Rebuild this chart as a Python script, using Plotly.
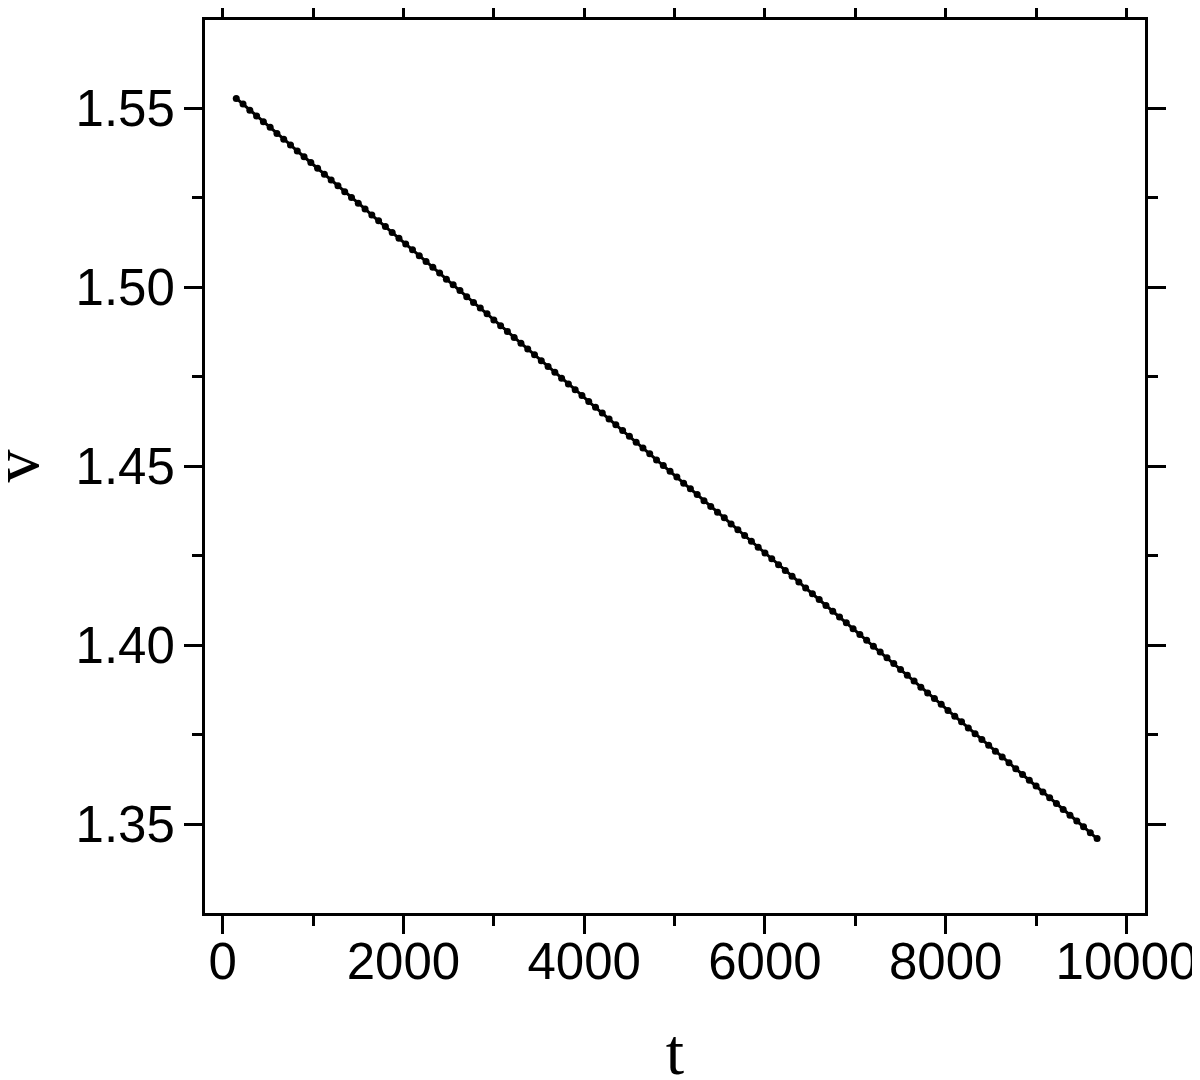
import plotly.graph_objs as go

t_vals = [
    150, 225, 300, 375, 450, 525, 600, 675, 750, 825,
    900, 975, 1050, 1125, 1200, 1275, 1350, 1425, 1500, 1575,
    1650, 1725, 1800, 1875, 1950, 2025, 2100, 2175, 2250, 2325,
    2400, 2475, 2550, 2625, 2700, 2775, 2850, 2925, 3000, 3075,
    3150, 3225, 3300, 3375, 3450, 3525, 3600, 3675, 3750, 3825,
    3900, 3975, 4050, 4125, 4200, 4275, 4350, 4425, 4500, 4575,
    4650, 4725, 4800, 4875, 4950, 5025, 5100, 5175, 5250, 5325,
    5400, 5475, 5550, 5625, 5700, 5775, 5850, 5925, 6000, 6075,
    6150, 6225, 6300, 6375, 6450, 6525, 6600, 6675, 6750, 6825,
    6900, 6975, 7050, 7125, 7200, 7275, 7350, 7425, 7500, 7575,
    7650, 7725, 7800, 7875, 7950, 8025, 8100, 8175, 8250, 8325,
    8400, 8475, 8550, 8625, 8700, 8775, 8850, 8925, 9000, 9075,
    9150, 9225, 9300, 9375, 9450, 9525, 9600, 9675,
]

v_vals = [
    1.5528, 1.5512, 1.5495, 1.5479, 1.5463, 1.5447, 1.5430, 1.5414, 1.5398, 1.5381,
    1.5365, 1.5349, 1.5333, 1.5316, 1.5300, 1.5284, 1.5267, 1.5251, 1.5235, 1.5219,
    1.5202, 1.5186, 1.5170, 1.5153, 1.5137, 1.5121, 1.5105, 1.5088, 1.5072, 1.5056,
    1.5040, 1.5023, 1.5007, 1.4991, 1.4974, 1.4958, 1.4942, 1.4926, 1.4909, 1.4893,
    1.4877, 1.4860, 1.4844, 1.4828, 1.4812, 1.4795, 1.4779, 1.4763, 1.4746, 1.4730,
    1.4714, 1.4698, 1.4681, 1.4665, 1.4649, 1.4632, 1.4616, 1.4600, 1.4584, 1.4567,
    1.4551, 1.4535, 1.4518, 1.4502, 1.4486, 1.4470, 1.4453, 1.4437, 1.4421, 1.4404,
    1.4388, 1.4372, 1.4356, 1.4339, 1.4323, 1.4307, 1.4291, 1.4274, 1.4258, 1.4242,
    1.4225, 1.4209, 1.4193, 1.4177, 1.4160, 1.4144, 1.4128, 1.4111, 1.4095, 1.4079,
    1.4063, 1.4046, 1.4030, 1.4014, 1.3997, 1.3981, 1.3965, 1.3949, 1.3932, 1.3916,
    1.3900, 1.3883, 1.3867, 1.3851, 1.3835, 1.3818, 1.3802, 1.3786, 1.3769, 1.3753,
    1.3737, 1.3721, 1.3704, 1.3688, 1.3672, 1.3655, 1.3639, 1.3623, 1.3607, 1.3590,
    1.3574, 1.3558, 1.3541, 1.3525, 1.3509, 1.3493, 1.3476, 1.3460,
]

x_ticks = [0, 2000, 4000, 6000, 8000, 10000]
x_labels = ["0", "2000", "4000", "6000", "8000", "10000"]
y_ticks = [1.35, 1.40, 1.45, 1.50, 1.55]
y_labels = ["1.35", "1.40", "1.45", "1.50", "1.55"]

TICK_FONT = dict(family="Liberation Sans, Arial, sans-serif", size=51, color="black")
TITLE_FONT = dict(family="Liberation Serif, Times New Roman, serif", size=66, color="black")

fig = go.Figure()
fig.add_trace(
    go.Scatter(
        x=t_vals,
        y=v_vals,
        mode="lines+markers",
        line=dict(color="black", width=3),
        marker=dict(color="black", size=7),
        showlegend=False,
    )
)

axis_common = dict(
    showline=True,
    linecolor="black",
    linewidth=3,
    mirror="ticks",
    ticks="outside",
    ticklen=18,
    tickwidth=3,
    tickcolor="black",
    showgrid=False,
    zeroline=False,
    automargin=False,
    ticklabeloverflow="allow",
    tickfont=TICK_FONT,
)

fig.update_xaxes(
    range=[-196, 10205],
    tickvals=x_ticks,
    ticktext=x_labels,
    ticklabelstandoff=-16,
    minor=dict(ticks="outside", ticklen=10, tickwidth=3, tickcolor="black", dtick=1000, showgrid=False),
    title=dict(text="t", font=TITLE_FONT, standoff=40),
    **axis_common,
)
fig.update_yaxes(
    range=[1.3252, 1.5747],
    tickvals=y_ticks,
    ticktext=y_labels,
    ticklabelstandoff=-1,
    minor=dict(ticks="outside", ticklen=10, tickwidth=3, tickcolor="black", dtick=0.025, showgrid=False),
    **axis_common,
)

# y title as a rotated annotation so it can sit right at the left edge
fig.add_annotation(
    text="v",
    font=TITLE_FONT,
    textangle=-90,
    xref="paper",
    yref="paper",
    x=-0.202,
    y=0.5,
    xanchor="center",
    yanchor="middle",
    showarrow=False,
)

# page body adds ~8px offset, so margins are shifted to land the frame where it should
fig.update_layout(
    width=1200,
    height=1080,
    paper_bgcolor="white",
    plot_bgcolor="white",
    margin=dict(l=197, r=63, t=12, b=175),
)

fig.write_html("out.html")
